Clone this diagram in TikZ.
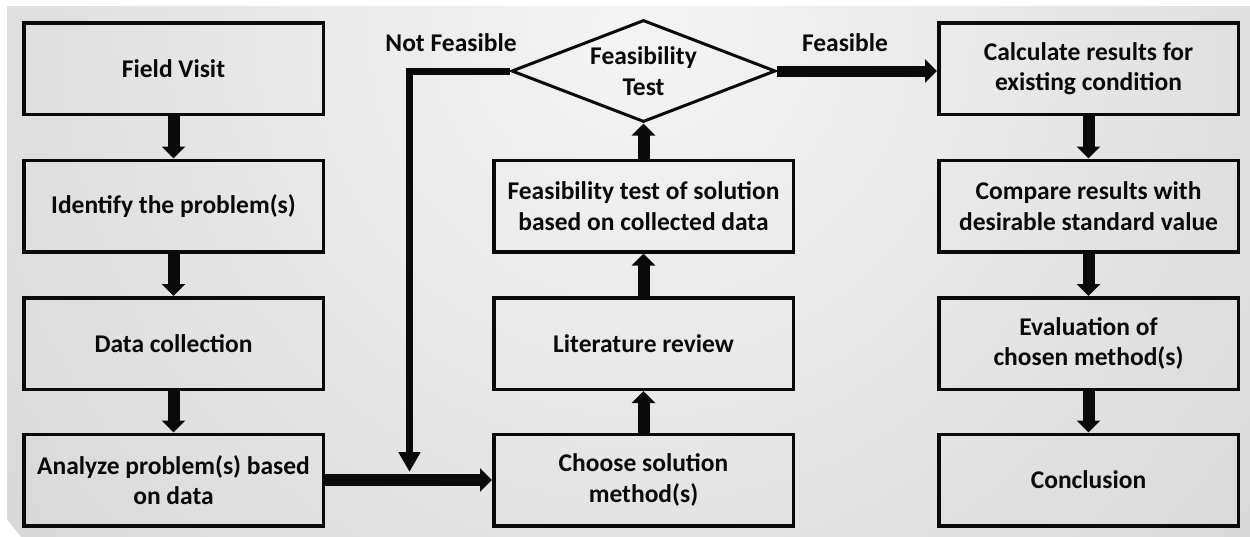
\documentclass[tikz,border=0pt]{standalone}
\usepackage{fontspec}
\setmainfont{Carlito}
\usetikzlibrary{arrows.meta,shapes.geometric}

\definecolor{bgA}{HTML}{F4F4F4}
\definecolor{bgB}{HTML}{EAEAEA}
\definecolor{bgC}{HTML}{CDCDCD}
\definecolor{bgD}{HTML}{B9B9B9}
\definecolor{ink}{HTML}{0A0A0A}

% soft glow behind the chart, brightest at the top middle
\pgfdeclareradialshading{backglow}{\pgfpointorigin}{%
  color(0bp)=(bgA); color(10bp)=(bgB); color(35bp)=(bgC); color(50bp)=(bgD)}

\tikzset{
  labeltext/.style={font=\fontsize{25.5}{30.5}\selectfont\bfseries, text=ink, align=center},
  stepbox/.style={labeltext, draw=ink, line width=3.5pt, inner sep=0pt,
    minimum width=299.5pt, minimum height=91.5pt},
  decision/.style={labeltext, diamond, draw=ink, line width=3pt, aspect=2.6,
    inner sep=0pt, minimum width=264pt, minimum height=102pt},
  flow/.style={draw=ink, line width=12pt, -{Triangle[length=12pt,width=23pt]}},
  backflow/.style={draw=ink, line width=7pt, -{Triangle[length=20pt,width=21pt]}},
}

\begin{document}
\begin{tikzpicture}[x=1pt,y=-1pt]
\useasboundingbox (0,0) rectangle (1250,536);
\fill[white] (0,0) rectangle (1250,536);
\begin{scope}
  \clip (7,6) rectangle (1250,536);
  \shade[shading=backglow] (640,30) circle[radius=800pt];
\end{scope}

% left column
\node[stepbox] (fv) at (173.5,68.5) {Field Visit};
\node[stepbox] (ip) at (173.5,206) {Identify the problem(s)};
\node[stepbox] (dc) at (173.5,343.5) {Data collection};
\node[stepbox] (ap) at (173.5,480) {Analyze problem(s) based\\on data};

% middle column
\node[stepbox] (cs) at (643.5,480) {Choose solution\\method(s)};
\node[stepbox] (lr) at (643.5,343.5) {Literature review};
\node[stepbox] (ft) at (643.5,206) {Feasibility test of solution\\based on collected data};
\node[decision] (dt) at (643.5,71) {Feasibility\\Test};

% right column
\node[stepbox] (cr) at (1088.5,68.5) {Calculate results for\\existing condition};
\node[stepbox] (cm) at (1088.5,206) {Compare results with\\desirable standard value};
\node[stepbox] (ev) at (1088.5,343.5) {Evaluation of\\chosen method(s)};
\node[stepbox] (cc) at (1088.5,480) {Conclusion};

% branch labels
\node[labeltext] (nfl) at (451,43) {Not Feasible};
\node[labeltext] (fsl) at (845,43) {Feasible};

% connectors
\draw[flow] (fv) -- (ip);
\draw[flow] (ip) -- (dc);
\draw[flow] (dc) -- (ap);
\draw[flow] (ap.east) -- (cs.west);
\draw[flow] (cs) -- (lr);
\draw[flow] (lr) -- (ft);
\draw[flow] (ft) -- (dt);
\draw[flow, line width=11pt] (dt.east) -- (dt.east -| cr.west);
\draw[flow] (cr) -- (cm);
\draw[flow] (cm) -- (ev);
\draw[flow] (ev) -- (cc);

\coordinate (nfend) at (409.5,472);
\draw[backflow] (dt.west) -| (nfend);
\end{tikzpicture}
\end{document}
